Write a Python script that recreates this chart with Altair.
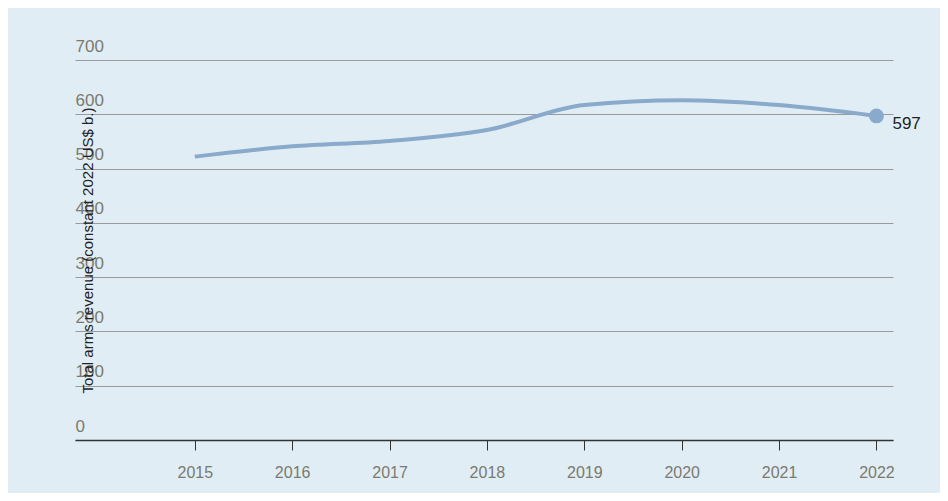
import altair as alt
import pandas as pd

# Total arms revenue, constant 2022 US$ b.
years = [2015, 2016, 2017, 2018, 2019, 2020, 2021, 2022]
revenue = [522, 541, 551, 571, 617, 626, 617, 597]
last_label = ["", "", "", "", "", "", "", "597"]

df = pd.DataFrame({"year": years, "revenue": revenue, "label": last_label})

x = alt.X("year:Q", scale=alt.Scale(domain=[2013.77, 2022.17], nice=False, zero=False),
          axis=alt.Axis(values=years, format="d", title=None, grid=False,
                        domainColor="#333333", domainWidth=1.5, tickColor="#333333",
                        tickSize=10, labelPadding=14, labelFontSize=16,
                        labelColor="#7a7a6e", labelFont="Liberation Sans"))
y = alt.Y("revenue:Q", scale=alt.Scale(domain=[0, 700], nice=False),
          axis=alt.Axis(values=[0, 100, 200, 300, 400, 500, 600, 700],
                        title="Total arms revenue (constant 2022 US$ b.)",
                        titleFontSize=15, titleFontWeight="normal", titleColor="#222222",
                        titleFont="Liberation Sans", titlePadding=-20,
                        ticks=False, domain=False, labelAlign="left", labelPadding=0,
                        labelBaseline="bottom", labelOffset=-5, labelFontSize=17,
                        labelColor="#7a7a6e", labelFont="Liberation Sans",
                        gridColor="#9a9a9a", gridWidth=1.2))

base = alt.Chart(df)
line = base.mark_line(interpolate="monotone", color="#8aaacb", strokeWidth=4).encode(x=x, y=y)
dot = base.transform_filter("datum.year == 2022").mark_point(
    filled=True, size=220, color="#8aaacb", opacity=1).encode(x=x, y=y)
text = base.transform_filter("datum.year == 2022").mark_text(
    align="left", dx=16, dy=8, fontSize=17, color="#222222", font="Liberation Sans"
).encode(x=x, y=y, text="label:N")

chart = (line + dot + text).properties(
    width=818, height=380,
    autosize=alt.AutoSizeParams(type="none"),
    padding={"left": 67, "top": 52, "right": 47, "bottom": 53},
    background="#e1edf5",
).configure_view(stroke=None)

chart.save("out.html", embed_options={"renderer": "svg", "actions": False})
